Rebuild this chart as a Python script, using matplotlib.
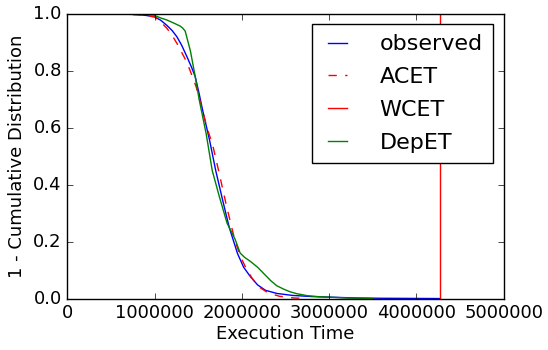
import matplotlib
matplotlib.use("Agg")
import matplotlib.pyplot as plt

# Data (execution time in units of 1e6 cycles)
obs_x = [0.37, 0.6, 0.8, 0.9, 1.0, 1.07, 1.14, 1.2, 1.255, 1.31, 1.37, 1.42, 1.465, 1.51, 1.55, 1.63, 1.70,
         1.78, 1.855, 1.95, 2.02, 2.10, 2.18, 2.27, 2.4, 2.58, 2.8, 3.0, 3.3, 3.6, 4.27]
obs_y = [1.0, 1.0, 0.998, 0.995, 0.99, 0.978, 0.96, 0.942, 0.92, 0.89, 0.85, 0.815, 0.78, 0.72, 0.662, 0.556, 0.45,
         0.345, 0.25, 0.158, 0.11, 0.076, 0.048, 0.029, 0.018, 0.011, 0.007, 0.005, 0.002, 0.001, 0.0]

acet_x = [0.37, 0.6, 0.8, 0.9, 1.0, 1.07, 1.14, 1.2, 1.255, 1.31, 1.37, 1.42, 1.475, 1.55, 1.6, 1.665, 1.74,
          1.82, 1.915, 1.98, 2.05, 2.12, 2.2, 2.3, 2.43, 2.6, 2.75]
acet_y = [1.0, 1.0, 0.997, 0.994, 0.99, 0.972, 0.95, 0.925, 0.897, 0.865, 0.83, 0.79, 0.745, 0.66, 0.6, 0.54, 0.44,
          0.33, 0.21, 0.15, 0.105, 0.07, 0.04, 0.02, 0.008, 0.002, 0.0]

wcet_x = 4.27

dep_x = [0.37, 0.8, 0.9, 0.99, 1.07, 1.14, 1.22, 1.29, 1.32, 1.35, 1.38, 1.41, 1.465, 1.51, 1.59, 1.66, 1.74,
         1.83, 1.92, 1.98, 2.03, 2.1, 2.18, 2.25, 2.33, 2.4, 2.48, 2.55, 2.63, 2.75, 2.9, 3.0, 3.2, 3.5]
dep_y = [1.0, 1.0, 0.999, 0.996, 0.986, 0.979, 0.968, 0.958, 0.951, 0.94, 0.905, 0.87, 0.78, 0.70, 0.58, 0.45, 0.36,
         0.265, 0.21, 0.16, 0.145, 0.13, 0.11, 0.088, 0.063, 0.045, 0.033, 0.024, 0.017, 0.01, 0.006, 0.005, 0.002, 0.0]

plt.style.use("classic")
plt.rcParams["figure.facecolor"] = "white"
plt.rcParams["savefig.facecolor"] = "white"
plt.rcParams["font.family"] = "DejaVu Sans"

fig = plt.figure(figsize=(5.48, 3.5), dpi=100)
ax = fig.add_axes([0.123, 0.147, 0.796, 0.813])

scale = 1e6
ax.plot([v * scale for v in obs_x], obs_y, color="b", lw=1.0, label="observed")
ax.plot([v * scale for v in acet_x], acet_y, color="r", ls="--", dashes=(6, 6), lw=1.0, label="ACET")
ax.axvline(wcet_x * scale, color="r", lw=1.0, label="WCET")
ax.plot([v * scale for v in dep_x], dep_y, color="g", lw=1.0, label="DepET")

ax.set_xlim(0, 5e6)
ax.set_ylim(0, 1.0)
ax.set_xticks([0, 1e6, 2e6, 3e6, 4e6, 5e6])
ax.set_xticklabels(["0", "1000000", "2000000", "3000000", "4000000", "5000000"])
ax.set_yticks([0, 0.2, 0.4, 0.6, 0.8, 1.0])
ax.set_yticklabels(["0.0", "0.2", "0.4", "0.6", "0.8", "1.0"])
ax.tick_params(labelsize=13)
ax.set_xlabel("Execution Time", fontsize=13, labelpad=2)
ax.set_ylabel("1 - Cumulative Distribution", fontsize=13)

leg = ax.legend(loc="upper right", fontsize=16, handlelength=1.45, handletextpad=1.15,
                labelspacing=0.58, borderaxespad=0.0, borderpad=0.45,
                bbox_to_anchor=(492.7 / 548, 1 - 24.3 / 350), bbox_transform=fig.transFigure)

fig.savefig("out.png", dpi=100)
